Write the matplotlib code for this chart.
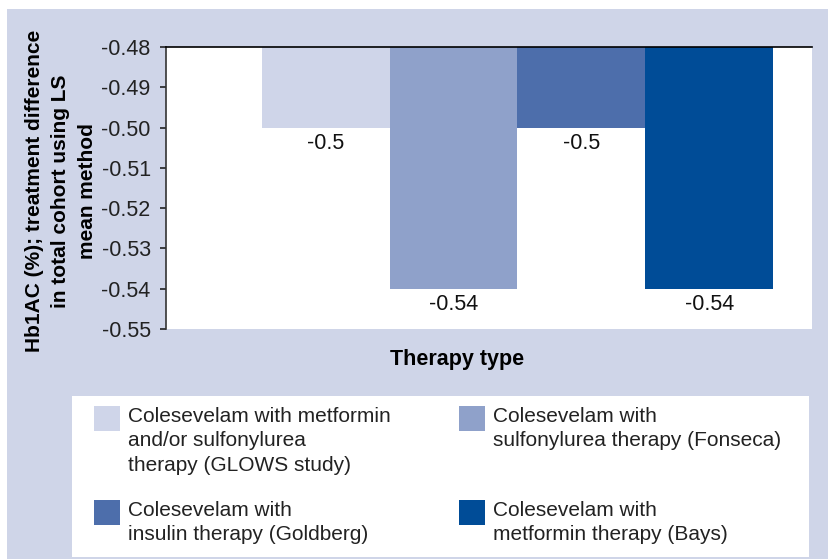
import matplotlib
matplotlib.use('Agg')
import matplotlib.pyplot as plt
import matplotlib.patches as patches
from matplotlib.ticker import FormatStrFormatter

plt.rcParams['font.family'] = ['Liberation Sans', 'DejaVu Sans']

# data
therapies = [
    'Colesevelam with metformin\nand/or sulfonylurea\ntherapy (GLOWS study)',
    'Colesevelam with\nsulfonylurea therapy (Fonseca)',
    'Colesevelam with\ninsulin therapy (Goldberg)',
    'Colesevelam with\nmetformin therapy (Bays)',
]
values = [-0.50, -0.54, -0.50, -0.54]
value_labels = ['-0.5', '-0.54', '-0.5', '-0.54']
colors = ['#cfd5e9', '#8fa1ca', '#4d6eab', '#004c97']
y_ticks = [-0.48, -0.49, -0.50, -0.51, -0.52, -0.53, -0.54, -0.55]
baseline = -0.48

W, H = 829, 559
bg = '#cfd5e8'
fig = plt.figure(figsize=(W / 100, H / 100), dpi=100)
fig.patch.set_facecolor('white')
# lavender panel (white strip at top and left, as in the reference)
fig.patches.append(patches.Rectangle((7 / W, 0), 1 - 7 / W, 1 - 9 / H,
                                     transform=fig.transFigure, facecolor=bg,
                                     edgecolor='none', zorder=-10))

ax = fig.add_axes([166 / W, 1 - 329 / H, (812 - 166) / W, (329 - 47) / H])
ax.set_facecolor('white')

x = list(range(len(values)))
heights = [v - baseline for v in values]
ax.bar(x, heights, bottom=baseline, width=1.0, color=colors, edgecolor='none')
for xi, v, lab in zip(x, values, value_labels):
    ax.annotate(lab, (xi, v), xytext=(0, -5), textcoords='offset pixels',
                ha='center', va='top', fontsize=15.5, color='#111111')

ax.set_xlim(-1.25, 3.805)
ax.set_ylim(-0.55, -0.48)
ax.set_yticks(y_ticks)
ax.yaxis.set_major_formatter(FormatStrFormatter('%.2f'))
ax.set_xticks([])
ax.tick_params(axis='y', direction='out', length=4, width=1.2, pad=7,
               labelsize=15.5, colors='#222222')
for s in ['right', 'bottom']:
    ax.spines[s].set_visible(False)
ax.spines['left'].set_color('#333333')
ax.spines['left'].set_linewidth(1.2)
ax.spines['top'].set_color('black')
ax.spines['top'].set_linewidth(1.2)

fig.text(61 / W, 1 - 191 / H,
         'Hb1AC (%); treatment difference\nin total cohort using LS\nmean method',
         rotation=90, ha='center', va='center', multialignment='center',
         fontsize=15, fontweight='bold', linespacing=1.5)
fig.text(457 / W, 1 - 360 / H, 'Therapy type', ha='center', va='center',
         fontsize=15.5, fontweight='bold')

# legend panel
fig.patches.append(patches.Rectangle((72 / W, 1 - 557 / H), (809 - 72) / W, (557 - 396) / H,
                                     transform=fig.transFigure, facecolor='white',
                                     edgecolor='none', zorder=-5))
col_x = [94, 459]
row_y = [406, 500]
for i, (lab, c) in enumerate(zip(therapies, colors)):
    cx = col_x[i % 2]
    ry = row_y[i // 2]
    fig.patches.append(patches.Rectangle((cx / W, 1 - (ry + 25) / H), 26 / W, 25 / H,
                                         transform=fig.transFigure, facecolor=c,
                                         edgecolor='none'))
    fig.text((cx + 34) / W, 1 - (ry + 1) / H, lab, ha='left', va='top',
             fontsize=15, color='#222222', linespacing=1.36)

fig.savefig('out.png', dpi=100, facecolor=fig.get_facecolor())
